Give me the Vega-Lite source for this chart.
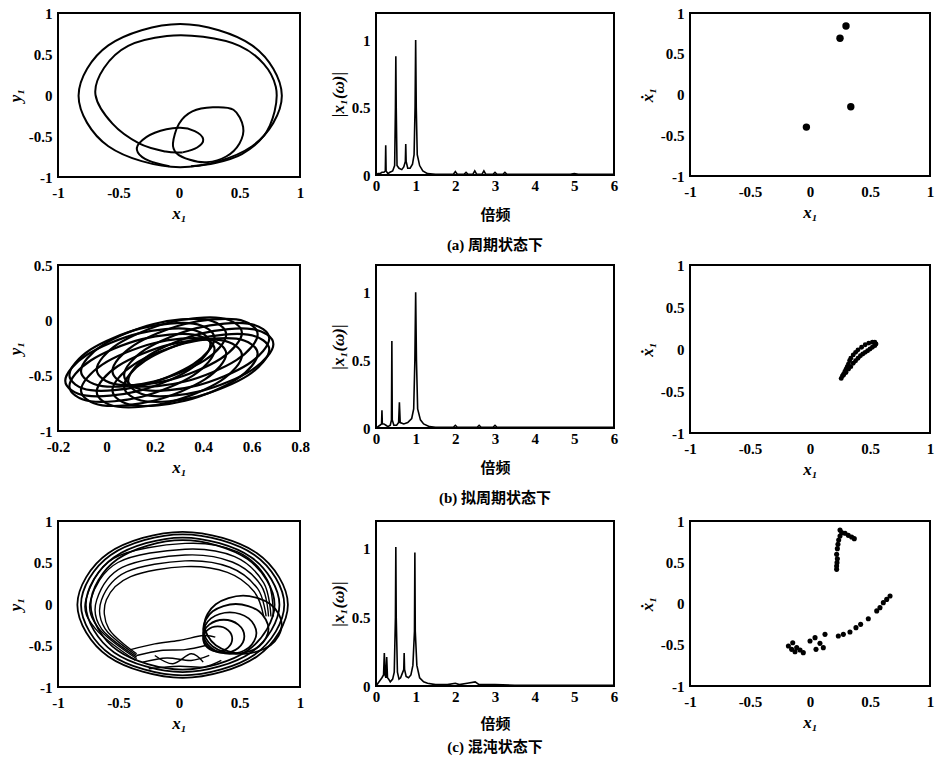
{
 "$schema": "https://vega.github.io/schema/vega-lite/v6.json",
 "background": "white",
 "padding": {"left": 5, "top": 5, "right": 5, "bottom": 5},
 "config": {
  "view": {"stroke": "black", "strokeWidth": 2},
  "axis": {"grid": false, "domain": false, "ticks": false, "labelFont": "Liberation Serif", "labelFontWeight": "bold", "labelFontSize": 15, "labelColor": "black", "titleFont": "Liberation Serif", "titleFontStyle": "italic", "titleFontWeight": "bold", "titleFontSize": 17, "titleColor": "black", "labelOverlap": false, "labelExpr": "replace(format(datum.value, '~g'), '\u2212', '-')"},
  "axisY": {"labelPadding": 6, "titlePadding": 4},
  "axisX": {"labelPadding": 8, "titlePadding": 5, "labelFlush": false},
  "title": {"font": "Liberation Serif, Noto Sans CJK SC", "fontSize": 15, "fontWeight": "bold", "color": "black"},
  "line": {"color": "black"},
  "point": {"color": "black", "filled": true, "opacity": 1}
 },
 "datasets": {
  "a1c": [
   {"x":0.85,"y":-0.01,"s":"outer"},{"x":0.604,"y":0.605,"s":"outer"},{"x":0.01,"y":0.865,"s":"outer"},{"x":-0.584,"y":0.605,"s":"outer"},{"x":-0.83,"y":-0.01,"s":"outer"},{"x":-0.584,"y":-0.625,"s":"outer"},{"x":0.01,"y":-0.88,"s":"outer"},{"x":0.604,"y":-0.625,"s":"outer"},
   {"x":-0.05,"y":-0.59,"s":"loop2"},{"x":0.0,"y":-0.35,"s":"loop2"},{"x":0.11,"y":-0.2,"s":"loop2"},{"x":0.28,"y":-0.15,"s":"loop2"},{"x":0.45,"y":-0.18,"s":"loop2"},{"x":0.53,"y":-0.39,"s":"loop2"},{"x":0.5,"y":-0.59,"s":"loop2"},{"x":0.39,"y":-0.75,"s":"loop2"},{"x":0.23,"y":-0.82,"s":"loop2"},{"x":0.09,"y":-0.79,"s":"loop2"},{"x":-0.02,"y":-0.71,"s":"loop2"}
  ],
  "a1o": [
   {"x":0.03,"y":-0.7,"s":"inner"},{"x":-0.11,"y":-0.69,"s":"inner"},{"x":-0.33,"y":-0.59,"s":"inner"},{"x":-0.55,"y":-0.35,"s":"inner"},{"x":-0.69,"y":0.0,"s":"inner"},{"x":-0.62,"y":0.33,"s":"inner"},{"x":-0.42,"y":0.6,"s":"inner"},{"x":-0.1,"y":0.72,"s":"inner"},{"x":0.2,"y":0.71,"s":"inner"},{"x":0.5,"y":0.6,"s":"inner"},{"x":0.7,"y":0.38,"s":"inner"},{"x":0.8,"y":0.1,"s":"inner"},{"x":0.79,"y":-0.2,"s":"inner"},{"x":0.7,"y":-0.5,"s":"inner"},{"x":0.52,"y":-0.72,"s":"inner"},{"x":0.3,"y":-0.83,"s":"inner"},{"x":0.1,"y":-0.87,"s":"inner"},
   {"x":0.03,"y":-0.7,"s":"loop1"},{"x":0.15,"y":-0.64,"s":"loop1"},{"x":0.2,"y":-0.54,"s":"loop1"},{"x":0.13,"y":-0.44,"s":"loop1"},{"x":0.0,"y":-0.4,"s":"loop1"},{"x":-0.2,"y":-0.46,"s":"loop1"},{"x":-0.33,"y":-0.59,"s":"loop1"},{"x":-0.34,"y":-0.7,"s":"loop1"},{"x":-0.25,"y":-0.8,"s":"loop1"},{"x":-0.08,"y":-0.87,"s":"loop1"}
  ],
  "a2": [
   {"x":0.69,"y":-0.215,"s":"L0"},{"x":0.602,"y":-0.079,"s":"L0"},{"x":0.39,"y":-0.12,"s":"L0"},{"x":0.178,"y":-0.313,"s":"L0"},{"x":0.09,"y":-0.545,"s":"L0"},{"x":0.178,"y":-0.681,"s":"L0"},{"x":0.39,"y":-0.64,"s":"L0"},{"x":0.602,"y":-0.447,"s":"L0"},
   {"x":0.673,"y":-0.165,"s":"L1"},{"x":0.585,"y":-0.029,"s":"L1"},{"x":0.373,"y":-0.07,"s":"L1"},{"x":0.161,"y":-0.263,"s":"L1"},{"x":0.073,"y":-0.495,"s":"L1"},{"x":0.161,"y":-0.631,"s":"L1"},{"x":0.373,"y":-0.59,"s":"L1"},{"x":0.585,"y":-0.397,"s":"L1"},
   {"x":0.625,"y":-0.128,"s":"L2"},{"x":0.537,"y":0.008,"s":"L2"},{"x":0.325,"y":-0.033,"s":"L2"},{"x":0.113,"y":-0.226,"s":"L2"},{"x":0.025,"y":-0.458,"s":"L2"},{"x":0.113,"y":-0.594,"s":"L2"},{"x":0.325,"y":-0.553,"s":"L2"},{"x":0.537,"y":-0.36,"s":"L2"},
   {"x":0.56,"y":-0.115,"s":"L3"},{"x":0.472,"y":0.021,"s":"L3"},{"x":0.26,"y":-0.02,"s":"L3"},{"x":0.048,"y":-0.213,"s":"L3"},{"x":-0.04,"y":-0.445,"s":"L3"},{"x":0.048,"y":-0.581,"s":"L3"},{"x":0.26,"y":-0.54,"s":"L3"},{"x":0.472,"y":-0.347,"s":"L3"},
   {"x":0.495,"y":-0.128,"s":"L4"},{"x":0.407,"y":0.008,"s":"L4"},{"x":0.195,"y":-0.033,"s":"L4"},{"x":-0.017,"y":-0.226,"s":"L4"},{"x":-0.105,"y":-0.458,"s":"L4"},{"x":-0.017,"y":-0.594,"s":"L4"},{"x":0.195,"y":-0.553,"s":"L4"},{"x":0.407,"y":-0.36,"s":"L4"},
   {"x":0.447,"y":-0.165,"s":"L5"},{"x":0.359,"y":-0.029,"s":"L5"},{"x":0.147,"y":-0.07,"s":"L5"},{"x":-0.065,"y":-0.263,"s":"L5"},{"x":-0.153,"y":-0.495,"s":"L5"},{"x":-0.065,"y":-0.631,"s":"L5"},{"x":0.147,"y":-0.59,"s":"L5"},{"x":0.359,"y":-0.397,"s":"L5"},
   {"x":0.43,"y":-0.215,"s":"L6"},{"x":0.342,"y":-0.079,"s":"L6"},{"x":0.13,"y":-0.12,"s":"L6"},{"x":-0.082,"y":-0.313,"s":"L6"},{"x":-0.17,"y":-0.545,"s":"L6"},{"x":-0.082,"y":-0.681,"s":"L6"},{"x":0.13,"y":-0.64,"s":"L6"},{"x":0.342,"y":-0.447,"s":"L6"},
   {"x":0.447,"y":-0.265,"s":"L7"},{"x":0.359,"y":-0.129,"s":"L7"},{"x":0.147,"y":-0.17,"s":"L7"},{"x":-0.065,"y":-0.363,"s":"L7"},{"x":-0.153,"y":-0.595,"s":"L7"},{"x":-0.065,"y":-0.731,"s":"L7"},{"x":0.147,"y":-0.69,"s":"L7"},{"x":0.359,"y":-0.497,"s":"L7"},
   {"x":0.495,"y":-0.302,"s":"L8"},{"x":0.407,"y":-0.166,"s":"L8"},{"x":0.195,"y":-0.207,"s":"L8"},{"x":-0.017,"y":-0.4,"s":"L8"},{"x":-0.105,"y":-0.632,"s":"L8"},{"x":-0.017,"y":-0.768,"s":"L8"},{"x":0.195,"y":-0.727,"s":"L8"},{"x":0.407,"y":-0.534,"s":"L8"},
   {"x":0.56,"y":-0.315,"s":"L9"},{"x":0.472,"y":-0.179,"s":"L9"},{"x":0.26,"y":-0.22,"s":"L9"},{"x":0.048,"y":-0.413,"s":"L9"},{"x":-0.04,"y":-0.645,"s":"L9"},{"x":0.048,"y":-0.781,"s":"L9"},{"x":0.26,"y":-0.74,"s":"L9"},{"x":0.472,"y":-0.547,"s":"L9"},
   {"x":0.625,"y":-0.302,"s":"L10"},{"x":0.537,"y":-0.166,"s":"L10"},{"x":0.325,"y":-0.207,"s":"L10"},{"x":0.113,"y":-0.4,"s":"L10"},{"x":0.025,"y":-0.632,"s":"L10"},{"x":0.113,"y":-0.768,"s":"L10"},{"x":0.325,"y":-0.727,"s":"L10"},{"x":0.537,"y":-0.534,"s":"L10"},
   {"x":0.673,"y":-0.265,"s":"L11"},{"x":0.585,"y":-0.129,"s":"L11"},{"x":0.373,"y":-0.17,"s":"L11"},{"x":0.161,"y":-0.363,"s":"L11"},{"x":0.073,"y":-0.595,"s":"L11"},{"x":0.161,"y":-0.731,"s":"L11"},{"x":0.373,"y":-0.69,"s":"L11"},{"x":0.585,"y":-0.497,"s":"L11"}
  ],
  "a3c": [
   {"x":0.9,"y":-0.01,"s":"R1"},{"x":0.645,"y":0.612,"s":"R1"},{"x":0.03,"y":0.87,"s":"R1"},{"x":-0.585,"y":0.612,"s":"R1"},{"x":-0.84,"y":-0.01,"s":"R1"},{"x":-0.585,"y":-0.632,"s":"R1"},{"x":0.03,"y":-0.89,"s":"R1"},{"x":0.645,"y":-0.632,"s":"R1"},
   {"x":0.87,"y":-0.01,"s":"R2"},{"x":0.624,"y":0.591,"s":"R2"},{"x":0.03,"y":0.84,"s":"R2"},{"x":-0.564,"y":0.591,"s":"R2"},{"x":-0.81,"y":-0.01,"s":"R2"},{"x":-0.564,"y":-0.611,"s":"R2"},{"x":0.03,"y":-0.86,"s":"R2"},{"x":0.624,"y":-0.611,"s":"R2"},
   {"x":0.83,"y":-0.01,"s":"R3"},{"x":0.596,"y":0.563,"s":"R3"},{"x":0.03,"y":0.8,"s":"R3"},{"x":-0.536,"y":0.563,"s":"R3"},{"x":-0.77,"y":-0.01,"s":"R3"},{"x":-0.536,"y":-0.583,"s":"R3"},{"x":0.03,"y":-0.82,"s":"R3"},{"x":0.596,"y":-0.583,"s":"R3"},
   {"x":0.79,"y":-0.01,"s":"R4"},{"x":0.567,"y":0.541,"s":"R4"},{"x":0.03,"y":0.77,"s":"R4"},{"x":-0.507,"y":0.541,"s":"R4"},{"x":-0.73,"y":-0.01,"s":"R4"},{"x":-0.507,"y":-0.561,"s":"R4"},{"x":0.03,"y":-0.79,"s":"R4"},{"x":0.567,"y":-0.561,"s":"R4"},
   {"x":0.85,"y":-0.25,"s":"S1"},{"x":0.756,"y":-0.003,"s":"S1"},{"x":0.53,"y":0.1,"s":"S1"},{"x":0.304,"y":-0.003,"s":"S1"},{"x":0.21,"y":-0.25,"s":"S1"},{"x":0.304,"y":-0.497,"s":"S1"},{"x":0.53,"y":-0.6,"s":"S1"},{"x":0.756,"y":-0.497,"s":"S1"},
   {"x":0.74,"y":-0.3,"s":"S2"},{"x":0.661,"y":-0.088,"s":"S2"},{"x":0.47,"y":0.0,"s":"S2"},{"x":0.279,"y":-0.088,"s":"S2"},{"x":0.2,"y":-0.3,"s":"S2"},{"x":0.279,"y":-0.512,"s":"S2"},{"x":0.47,"y":-0.6,"s":"S2"},{"x":0.661,"y":-0.512,"s":"S2"},
   {"x":0.64,"y":-0.35,"s":"S3"},{"x":0.576,"y":-0.173,"s":"S3"},{"x":0.42,"y":-0.1,"s":"S3"},{"x":0.264,"y":-0.173,"s":"S3"},{"x":0.2,"y":-0.35,"s":"S3"},{"x":0.264,"y":-0.527,"s":"S3"},{"x":0.42,"y":-0.6,"s":"S3"},{"x":0.576,"y":-0.527,"s":"S3"},
   {"x":0.54,"y":-0.39,"s":"S4"},{"x":0.49,"y":-0.249,"s":"S4"},{"x":0.37,"y":-0.19,"s":"S4"},{"x":0.25,"y":-0.249,"s":"S4"},{"x":0.2,"y":-0.39,"s":"S4"},{"x":0.25,"y":-0.531,"s":"S4"},{"x":0.37,"y":-0.59,"s":"S4"},{"x":0.49,"y":-0.531,"s":"S4"},
   {"x":0.44,"y":-0.42,"s":"S5"},{"x":0.405,"y":-0.314,"s":"S5"},{"x":0.32,"y":-0.27,"s":"S5"},{"x":0.235,"y":-0.314,"s":"S5"},{"x":0.2,"y":-0.42,"s":"S5"},{"x":0.235,"y":-0.526,"s":"S5"},{"x":0.32,"y":-0.57,"s":"S5"},{"x":0.405,"y":-0.526,"s":"S5"}
  ],
  "a3o": [
   {"x":-0.35,"y":-0.6,"s":"A0"},{"x":-0.58,"y":-0.3,"s":"A0"},{"x":-0.6,"y":0.05,"s":"A0"},{"x":-0.4,"y":0.33,"s":"A0"},{"x":0.05,"y":0.45,"s":"A0"},{"x":0.4,"y":0.38,"s":"A0"},{"x":0.62,"y":0.15,"s":"A0"},{"x":0.7,"y":-0.15,"s":"A0"},
   {"x":-0.35,"y":-0.62,"s":"A1"},{"x":-0.61,"y":-0.3,"s":"A1"},{"x":-0.64,"y":0.05,"s":"A1"},{"x":-0.435,"y":0.386,"s":"A1"},{"x":0.05,"y":0.52,"s":"A1"},{"x":0.42,"y":0.443,"s":"A1"},{"x":0.65,"y":0.185,"s":"A1"},{"x":0.72,"y":-0.15,"s":"A1"},
   {"x":-0.35,"y":-0.64,"s":"A2"},{"x":-0.64,"y":-0.3,"s":"A2"},{"x":-0.68,"y":0.05,"s":"A2"},{"x":-0.47,"y":0.44,"s":"A2"},{"x":0.05,"y":0.59,"s":"A2"},{"x":0.44,"y":0.506,"s":"A2"},{"x":0.68,"y":0.22,"s":"A2"},{"x":0.74,"y":-0.15,"s":"A2"},
   {"x":-0.35,"y":-0.66,"s":"A3"},{"x":-0.66,"y":-0.3,"s":"A3"},{"x":-0.73,"y":0.05,"s":"A3"},{"x":-0.505,"y":0.5,"s":"A3"},{"x":0.05,"y":0.66,"s":"A3"},{"x":0.46,"y":0.57,"s":"A3"},{"x":0.7,"y":0.255,"s":"A3"},{"x":0.76,"y":-0.15,"s":"A3"},
   {"x":-0.36,"y":-0.68,"s":"A4"},{"x":-0.69,"y":-0.3,"s":"A4"},{"x":-0.77,"y":0.05,"s":"A4"},{"x":-0.54,"y":0.55,"s":"A4"},{"x":0.05,"y":0.73,"s":"A4"},{"x":0.48,"y":0.63,"s":"A4"},{"x":0.73,"y":0.29,"s":"A4"},{"x":0.78,"y":-0.15,"s":"A4"},
   {"x":-0.4,"y":-0.55,"s":"M1"},{"x":-0.2,"y":-0.48,"s":"M1"},{"x":0.0,"y":-0.44,"s":"M1"},{"x":0.2,"y":-0.38,"s":"M1"},{"x":0.3,"y":-0.4,"s":"M1"},
   {"x":-0.35,"y":-0.62,"s":"M2"},{"x":-0.15,"y":-0.56,"s":"M2"},{"x":0.05,"y":-0.55,"s":"M2"},{"x":0.22,"y":-0.5,"s":"M2"},
   {"x":-0.3,"y":-0.7,"s":"M3"},{"x":-0.1,"y":-0.65,"s":"M3"},{"x":0.1,"y":-0.68,"s":"M3"},{"x":0.25,"y":-0.62,"s":"M3"},
   {"x":-0.25,"y":-0.78,"s":"M4"},{"x":0.0,"y":-0.75,"s":"M4"},{"x":0.2,"y":-0.76,"s":"M4"},{"x":0.35,"y":-0.68,"s":"M4"},
   {"x":-0.2,"y":-0.62,"s":"M5"},{"x":-0.05,"y":-0.72,"s":"M5"},{"x":0.1,"y":-0.6,"s":"M5"},{"x":0.2,"y":-0.7,"s":"M5"}
  ],
  "b1": [
   {"f":0,"a":0},{"f":0.05,"a":0.01},{"f":0.1,"a":0.01},{"f":0.15,"a":0.02},{"f":0.2,"a":0.02},{"f":0.235,"a":0.03},{"f":0.245,"a":0.22},{"f":0.255,"a":0.03},{"f":0.3,"a":0.01},{"f":0.35,"a":0.02},{"f":0.42,"a":0.03},{"f":0.47,"a":0.07},{"f":0.49,"a":0.5},{"f":0.5,"a":0.88},{"f":0.51,"a":0.5},{"f":0.53,"a":0.07},{"f":0.58,"a":0.05},{"f":0.65,"a":0.04},{"f":0.7,"a":0.06},{"f":0.74,"a":0.1},{"f":0.75,"a":0.23},{"f":0.76,"a":0.1},{"f":0.8,"a":0.05},{"f":0.86,"a":0.05},{"f":0.92,"a":0.08},{"f":0.96,"a":0.15},{"f":0.985,"a":0.5},{"f":1.0,"a":1.0},{"f":1.015,"a":0.5},{"f":1.04,"a":0.15},{"f":1.1,"a":0.07},{"f":1.18,"a":0.03},{"f":1.3,"a":0.01},{"f":1.5,"a":0.005},{"f":1.95,"a":0.005},{"f":2.0,"a":0.025},{"f":2.05,"a":0.005},{"f":2.22,"a":0.005},{"f":2.27,"a":0.02},{"f":2.32,"a":0.005},{"f":2.44,"a":0.005},{"f":2.49,"a":0.03},{"f":2.54,"a":0.005},{"f":2.67,"a":0.005},{"f":2.72,"a":0.03},{"f":2.77,"a":0.005},{"f":2.95,"a":0.005},{"f":3.0,"a":0.02},{"f":3.05,"a":0.005},{"f":3.2,"a":0.005},{"f":3.25,"a":0.02},{"f":3.3,"a":0.005},{"f":4.0,"a":0.005},{"f":4.9,"a":0.005},{"f":5.0,"a":0.01},{"f":5.1,"a":0.005},{"f":6.0,"a":0.005}
  ],
  "b2": [
   {"f":0,"a":0},{"f":0.05,"a":0.01},{"f":0.1,"a":0.02},{"f":0.14,"a":0.03},{"f":0.15,"a":0.13},{"f":0.16,"a":0.03},{"f":0.2,"a":0.03},{"f":0.25,"a":0.02},{"f":0.3,"a":0.01},{"f":0.36,"a":0.02},{"f":0.39,"a":0.06},{"f":0.4,"a":0.64},{"f":0.41,"a":0.06},{"f":0.45,"a":0.02},{"f":0.52,"a":0.02},{"f":0.57,"a":0.04},{"f":0.59,"a":0.19},{"f":0.61,"a":0.04},{"f":0.7,"a":0.03},{"f":0.8,"a":0.04},{"f":0.9,"a":0.07},{"f":0.95,"a":0.14},{"f":0.98,"a":0.5},{"f":1.0,"a":1.0},{"f":1.02,"a":0.5},{"f":1.05,"a":0.14},{"f":1.12,"a":0.06},{"f":1.2,"a":0.03},{"f":1.35,"a":0.01},{"f":1.5,"a":0.005},{"f":1.95,"a":0.005},{"f":2.0,"a":0.02},{"f":2.05,"a":0.005},{"f":2.55,"a":0.005},{"f":2.6,"a":0.02},{"f":2.65,"a":0.005},{"f":2.95,"a":0.005},{"f":3.0,"a":0.02},{"f":3.05,"a":0.005},{"f":4.0,"a":0.005},{"f":5.0,"a":0.005},{"f":6.0,"a":0.005}
  ],
  "b3": [
   {"f":0,"a":0},{"f":0.05,"a":0.02},{"f":0.1,"a":0.04},{"f":0.15,"a":0.06},{"f":0.19,"a":0.08},{"f":0.21,"a":0.24},{"f":0.23,"a":0.08},{"f":0.25,"a":0.06},{"f":0.27,"a":0.21},{"f":0.29,"a":0.06},{"f":0.32,"a":0.05},{"f":0.36,"a":0.03},{"f":0.42,"a":0.05},{"f":0.46,"a":0.1},{"f":0.49,"a":0.5},{"f":0.5,"a":1.01},{"f":0.51,"a":0.5},{"f":0.54,"a":0.1},{"f":0.58,"a":0.05},{"f":0.62,"a":0.06},{"f":0.66,"a":0.09},{"f":0.7,"a":0.12},{"f":0.71,"a":0.24},{"f":0.72,"a":0.12},{"f":0.76,"a":0.07},{"f":0.82,"a":0.06},{"f":0.88,"a":0.08},{"f":0.93,"a":0.15},{"f":0.97,"a":0.4},{"f":0.98,"a":0.97},{"f":0.99,"a":0.4},{"f":1.03,"a":0.15},{"f":1.1,"a":0.06},{"f":1.2,"a":0.03},{"f":1.3,"a":0.02},{"f":1.5,"a":0.01},{"f":1.8,"a":0.01},{"f":2.0,"a":0.02},{"f":2.1,"a":0.01},{"f":2.3,"a":0.02},{"f":2.5,"a":0.03},{"f":2.6,"a":0.01},{"f":2.8,"a":0.01},{"f":3.0,"a":0.01},{"f":3.5,"a":0.005},{"f":4.0,"a":0.005},{"f":5.0,"a":0.005},{"f":6.0,"a":0.005}
  ],
  "c1": [
   {"x":0.30,"y":0.84},{"x":0.25,"y":0.69},{"x":0.34,"y":-0.15},{"x":-0.03,"y":-0.40}
  ],
  "c2": [
   {"x":0.26,"y":-0.35},{"x":0.27,"y":-0.32},{"x":0.28,"y":-0.3},{"x":0.29,"y":-0.27},{"x":0.3,"y":-0.24},{"x":0.31,"y":-0.21},{"x":0.32,"y":-0.18},{"x":0.33,"y":-0.14},{"x":0.34,"y":-0.11},{"x":0.36,"y":-0.07},{"x":0.38,"y":-0.04},{"x":0.4,"y":-0.01},{"x":0.43,"y":0.02},{"x":0.46,"y":0.05},{"x":0.49,"y":0.07},{"x":0.52,"y":0.08},{"x":0.54,"y":0.08},{"x":0.55,"y":0.06},{"x":0.54,"y":0.04},{"x":0.52,"y":0.02},{"x":0.5,"y":0.0},{"x":0.48,"y":-0.02},{"x":0.46,"y":-0.04},{"x":0.44,"y":-0.06},{"x":0.42,"y":-0.08},{"x":0.4,"y":-0.11},{"x":0.38,"y":-0.14},{"x":0.36,"y":-0.17},{"x":0.34,"y":-0.21},{"x":0.32,"y":-0.24},{"x":0.3,"y":-0.28},{"x":0.28,"y":-0.31}
  ],
  "c3": [
   {"x":0.222,"y":0.414},{"x":0.222,"y":0.455},{"x":0.225,"y":0.495},{"x":0.228,"y":0.543},{"x":0.222,"y":0.596},{"x":0.228,"y":0.665},{"x":0.233,"y":0.717},{"x":0.239,"y":0.77},{"x":0.25,"y":0.818},{"x":0.264,"y":0.859},{"x":0.25,"y":0.891},{"x":0.292,"y":0.851},{"x":0.319,"y":0.826},{"x":0.347,"y":0.806},{"x":0.369,"y":0.786},
   {"x":-0.18,"y":-0.515},{"x":-0.153,"y":-0.556},{"x":-0.125,"y":-0.584},{"x":-0.111,"y":-0.535},{"x":-0.056,"y":-0.596},{"x":0.0,"y":-0.455},{"x":0.042,"y":-0.414},{"x":0.05,"y":-0.556},{"x":0.083,"y":-0.483},{"x":0.125,"y":-0.374},{"x":0.111,"y":-0.535},{"x":0.236,"y":-0.394},{"x":0.278,"y":-0.374},{"x":0.333,"y":-0.345},{"x":0.383,"y":-0.293},{"x":0.422,"y":-0.253},{"x":0.486,"y":-0.184},{"x":0.556,"y":-0.09},{"x":0.583,"y":-0.05},{"x":0.611,"y":0.01},{"x":0.639,"y":0.05},{"x":0.667,"y":0.091},{"x":-0.144,"y":-0.475},{"x":-0.083,"y":-0.564}
  ]
 },
 "columns": 3,
 "spacing": {"row": 88, "column": 76},
 "bounds": "flush",
 "concat": [
  {
   "width": 242, "height": 164,
   "encoding": {
    "x": {"field": "x", "type": "quantitative", "scale": {"domain": [-1, 1]}, "axis": {"values": [-1, -0.5, 0, 0.5, 1], "title": "x₁"}},
    "y": {"field": "y", "type": "quantitative", "scale": {"domain": [-1, 1]}, "axis": {"values": [-1, -0.5, 0, 0.5, 1], "title": "y₁"}}
   },
   "layer": [
    {"data": {"name": "a1c"}, "mark": {"type": "line", "interpolate": "cardinal-closed", "strokeWidth": 2}, "encoding": {"detail": {"field": "s"}, "order": {"value": null}}},
    {"data": {"name": "a1o"}, "mark": {"type": "line", "interpolate": "cardinal", "strokeWidth": 2}, "encoding": {"detail": {"field": "s"}, "order": {"value": null}}}
   ]
  },
  {
   "width": 238, "height": 162,
   "title": {"text": "(a)  周期状态下", "orient": "bottom", "offset": 16},
   "data": {"name": "b1"},
   "mark": {"type": "line", "strokeWidth": 1.6},
   "encoding": {
    "x": {"field": "f", "type": "quantitative", "scale": {"domain": [0, 6]}, "axis": {"values": [0, 1, 2, 3, 4, 5, 6], "title": "倍频", "titleFont": "Noto Sans CJK SC", "titleFontStyle": "normal", "titleFontSize": 15, "labelPadding": 3, "titlePadding": 14}},
    "y": {"field": "a", "type": "quantitative", "scale": {"domain": [0, 1.2]}, "axis": {"values": [0, 0.5, 1], "title": "|x₁(ω)|"}}
   }
  },
  {
   "width": 240, "height": 163,
   "data": {"name": "c1"},
   "mark": {"type": "point", "size": 55},
   "encoding": {
    "x": {"field": "x", "type": "quantitative", "scale": {"domain": [-1, 1]}, "axis": {"values": [-1, -0.5, 0, 0.5, 1], "title": "x₁"}},
    "y": {"field": "y", "type": "quantitative", "scale": {"domain": [-1, 1]}, "axis": {"values": [-1, -0.5, 0, 0.5, 1], "title": "ẋ₁"}}
   }
  },
  {
   "width": 242, "height": 166,
   "data": {"name": "a2"},
   "mark": {"type": "line", "interpolate": "cardinal-closed", "strokeWidth": 2.2},
   "encoding": {
    "x": {"field": "x", "type": "quantitative", "scale": {"domain": [-0.2, 0.8]}, "axis": {"values": [-0.2, 0, 0.2, 0.4, 0.6, 0.8], "title": "x₁"}},
    "y": {"field": "y", "type": "quantitative", "scale": {"domain": [-1, 0.5]}, "axis": {"values": [-1, -0.5, 0, 0.5], "title": "y₁"}},
    "detail": {"field": "s"},
    "order": {"value": null}
   }
  },
  {
   "width": 238, "height": 163,
   "title": {"text": "(b)  拟周期状态下", "orient": "bottom", "offset": 16},
   "data": {"name": "b2"},
   "mark": {"type": "line", "strokeWidth": 1.6},
   "encoding": {
    "x": {"field": "f", "type": "quantitative", "scale": {"domain": [0, 6]}, "axis": {"values": [0, 1, 2, 3, 4, 5, 6], "title": "倍频", "titleFont": "Noto Sans CJK SC", "titleFontStyle": "normal", "titleFontSize": 15, "labelPadding": 3, "titlePadding": 14}},
    "y": {"field": "a", "type": "quantitative", "scale": {"domain": [0, 1.2]}, "axis": {"values": [0, 0.5, 1], "title": "|x₁(ω)|"}}
   }
  },
  {
   "width": 240, "height": 168,
   "data": {"name": "c2"},
   "mark": {"type": "point", "size": 24},
   "encoding": {
    "x": {"field": "x", "type": "quantitative", "scale": {"domain": [-1, 1]}, "axis": {"values": [-1, -0.5, 0, 0.5, 1], "title": "x₁"}},
    "y": {"field": "y", "type": "quantitative", "scale": {"domain": [-1, 1]}, "axis": {"values": [-1, -0.5, 0, 0.5, 1], "title": "ẋ₁"}}
   }
  },
  {
   "width": 242, "height": 166,
   "encoding": {
    "x": {"field": "x", "type": "quantitative", "scale": {"domain": [-1, 1]}, "axis": {"values": [-1, -0.5, 0, 0.5, 1], "title": "x₁"}},
    "y": {"field": "y", "type": "quantitative", "scale": {"domain": [-1, 1]}, "axis": {"values": [-1, -0.5, 0, 0.5, 1], "title": "y₁"}}
   },
   "layer": [
    {"data": {"name": "a3c"}, "mark": {"type": "line", "interpolate": "cardinal-closed", "strokeWidth": 1.8}, "encoding": {"detail": {"field": "s"}, "order": {"value": null}}},
    {"data": {"name": "a3o"}, "mark": {"type": "line", "interpolate": "cardinal", "strokeWidth": 1.4}, "encoding": {"detail": {"field": "s"}, "order": {"value": null}}}
   ]
  },
  {
   "width": 238, "height": 165,
   "title": {"text": "(c)  混沌状态下", "orient": "bottom", "offset": 9},
   "data": {"name": "b3"},
   "mark": {"type": "line", "strokeWidth": 1.6},
   "encoding": {
    "x": {"field": "f", "type": "quantitative", "scale": {"domain": [0, 6]}, "axis": {"values": [0, 1, 2, 3, 4, 5, 6], "title": "倍频", "titleFont": "Noto Sans CJK SC", "titleFontStyle": "normal", "titleFontSize": 15, "labelPadding": 3, "titlePadding": 12}},
    "y": {"field": "a", "type": "quantitative", "scale": {"domain": [0, 1.2]}, "axis": {"values": [0, 0.5, 1], "title": "|x₁(ω)|"}}
   }
  },
  {
   "width": 240, "height": 165,
   "data": {"name": "c3"},
   "mark": {"type": "point", "size": 26},
   "encoding": {
    "x": {"field": "x", "type": "quantitative", "scale": {"domain": [-1, 1]}, "axis": {"values": [-1, -0.5, 0, 0.5, 1], "title": "x₁"}},
    "y": {"field": "y", "type": "quantitative", "scale": {"domain": [-1, 1]}, "axis": {"values": [-1, -0.5, 0, 0.5, 1], "title": "ẋ₁"}}
   }
  }
 ]
}
